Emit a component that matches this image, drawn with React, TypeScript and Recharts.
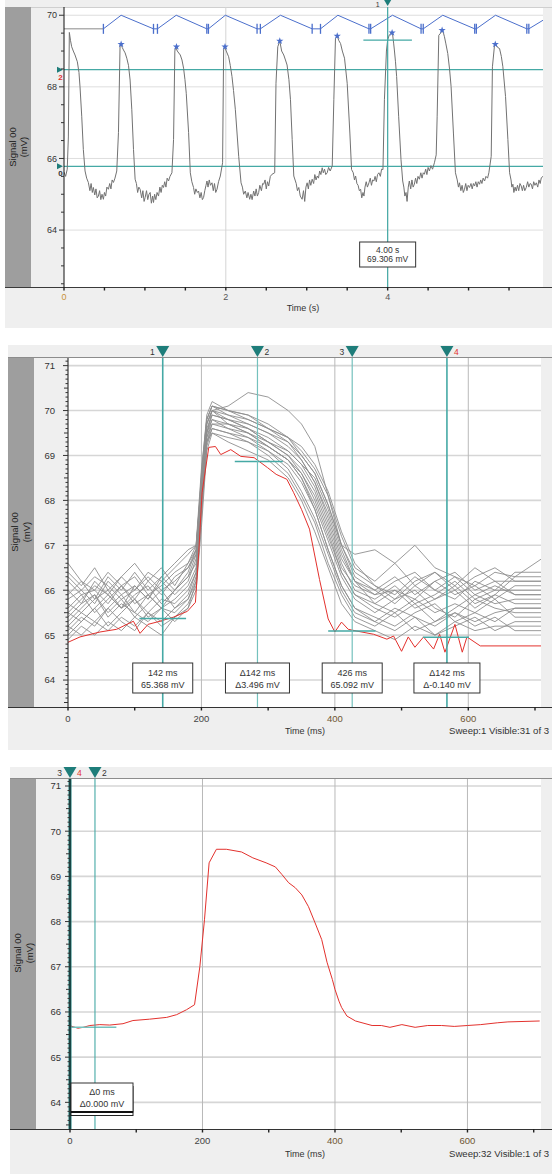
import React from 'react'
import { ComposedChart, Line, XAxis, YAxis, CartesianGrid, ReferenceLine } from 'recharts'

const FONT = '"Liberation Sans", Arial, Helvetica, sans-serif'
const TEAL_DARK = '#1e7d7a'
const TEAL = '#45a9a5'
const TEAL_LIGHT = '#74c1bd'
const RED = '#e3312d'
const BLUE = '#4b6fcc'

// ---------- panel 1: continuous recording (s / mV)
const P1_X_TICKS = [0, 0.5, 1, 1.5, 2, 2.5, 3, 3.5, 4, 4.5, 5, 5.5]
const P1_X_LABELS = [0, 2, 4]
const P1_Y_TICKS = [62.5, 63, 63.5, 64, 64.5, 65, 65.5, 66, 66.5, 67, 67.5, 68, 68.5, 69, 69.5, 70]
const P1_Y_LABELS = [64, 66, 68, 70]
const P1_HCURSORS = [68.48, 65.78]
const P1_CURSOR_T = 4.0
const P1_CURSOR_V = 69.306
const P1_READOUT = ['4.00 s', '69.306 mV']

const P1_SIGNAL: [number, number][] = [
  [0, 65.62], [0.02, 65.5], [0.04, 65.7], [0.054, 66.6], [0.066, 69.52], [0.08, 69.3], [0.095, 69.12], [0.115, 69.0],
  [0.136, 68.89], [0.165, 68.7], [0.185, 68.4], [0.198, 68.0], [0.219, 67.18], [0.239, 66.25], [0.26, 65.65], [0.28, 65.45],
  [0.301, 65.33], [0.32, 65.1], [0.335, 65.3], [0.35, 65.05], [0.363, 65.19], [0.38, 64.98], [0.395, 65.15], [0.41, 64.9],
  [0.425, 64.95], [0.44, 65.1], [0.455, 64.85], [0.47, 65.0], [0.487, 64.86], [0.5, 65.05], [0.515, 64.95], [0.53, 65.2],
  [0.549, 65.14], [0.565, 65.3], [0.58, 65.15], [0.595, 65.4], [0.611, 65.33], [0.63, 65.45], [0.652, 65.65], [0.673, 66.72],
  [0.693, 69.17], [0.706, 69.19],
  [0.72, 69.1], [0.735, 69.03], [0.755, 68.95], [0.776, 68.8], [0.797, 68.6], [0.817, 68.19], [0.838, 67.36], [0.859, 66.25],
  [0.879, 65.42], [0.895, 65.3], [0.91, 65.05], [0.925, 65.2], [0.941, 65.14], [0.96, 64.9], [0.975, 65.1], [0.99, 64.8],
  [1.003, 64.91], [1.02, 65.1], [1.035, 64.85], [1.05, 65.0], [1.065, 65.05], [1.08, 64.75], [1.095, 64.95], [1.106, 64.77],
  [1.12, 65.0], [1.135, 64.85], [1.15, 65.05], [1.168, 64.95], [1.185, 65.2], [1.2, 65.05], [1.215, 65.25], [1.23, 65.19],
  [1.245, 65.35], [1.26, 65.2], [1.275, 65.45], [1.292, 65.37], [1.31, 65.5], [1.334, 65.6], [1.354, 66.53], [1.37, 69.0],
  [1.38, 69.12],
  [1.4, 69.0], [1.437, 68.89], [1.458, 68.75], [1.478, 68.52], [1.495, 68.2], [1.511, 67.82], [1.54, 66.72], [1.561, 65.6],
  [1.58, 65.35], [1.601, 65.19], [1.615, 65.0], [1.63, 65.15], [1.648, 65.05], [1.663, 65.09], [1.68, 64.9], [1.695, 65.05],
  [1.71, 64.85], [1.725, 64.91], [1.74, 65.1], [1.755, 65.25], [1.767, 65.37], [1.78, 65.2], [1.795, 65.4], [1.81, 65.25],
  [1.829, 65.32], [1.845, 65.1], [1.86, 65.3], [1.875, 65.05], [1.891, 65.14], [1.91, 65.35], [1.932, 65.51], [1.96, 65.88],
  [1.973, 69.03], [1.985, 69.12],
  [2.005, 69.0], [2.035, 68.84], [2.055, 68.6], [2.076, 68.29], [2.095, 67.9], [2.118, 67.36], [2.159, 66.06], [2.188, 65.32],
  [2.205, 65.2], [2.22, 65.0], [2.241, 65.09], [2.26, 64.9], [2.275, 65.05], [2.295, 64.86], [2.31, 65.0], [2.325, 64.85],
  [2.344, 65.09], [2.36, 64.95], [2.375, 65.15], [2.39, 64.95], [2.406, 65.05], [2.42, 65.25], [2.44, 65.1], [2.455, 65.3],
  [2.468, 65.28], [2.485, 65.4], [2.5, 65.15], [2.515, 65.35], [2.53, 65.23], [2.55, 65.5], [2.572, 65.56], [2.604, 65.6],
  [2.62, 68.1], [2.642, 69.12], [2.667, 69.28],
  [2.69, 69.0], [2.716, 68.89], [2.737, 68.75], [2.757, 68.61], [2.78, 68.2], [2.799, 67.64], [2.82, 66.53], [2.84, 65.51],
  [2.87, 65.3], [2.885, 65.1], [2.902, 65.19], [2.92, 64.95], [2.943, 64.86], [2.96, 65.1], [2.975, 64.8], [2.99, 65.2],
  [3.005, 65.32], [3.02, 65.15], [3.035, 65.4], [3.05, 65.25], [3.067, 65.42], [3.085, 65.3], [3.1, 65.55], [3.115, 65.4],
  [3.13, 65.51], [3.145, 65.45], [3.16, 65.65], [3.175, 65.55], [3.191, 65.74], [3.205, 65.6], [3.22, 65.7], [3.235, 65.55],
  [3.253, 65.6], [3.27, 65.75], [3.29, 65.65], [3.315, 65.79], [3.335, 67.64], [3.355, 69.35], [3.377, 69.42],
  [3.395, 69.3], [3.418, 69.21], [3.44, 69.0], [3.467, 68.8], [3.5, 68.1], [3.533, 66.71], [3.554, 65.69], [3.575, 65.6],
  [3.59, 65.4], [3.604, 65.51], [3.62, 65.3], [3.635, 65.25], [3.65, 65.1], [3.666, 65.14], [3.68, 64.9], [3.695, 65.05],
  [3.707, 64.95], [3.72, 65.2], [3.735, 65.35], [3.75, 65.2], [3.769, 65.32], [3.785, 65.45], [3.8, 65.25], [3.815, 65.4],
  [3.83, 65.37], [3.845, 65.5], [3.86, 65.35], [3.875, 65.55], [3.892, 65.6], [3.91, 65.5], [3.925, 65.7], [3.942, 65.69],
  [3.96, 67.64], [3.985, 69.0], [4.0, 69.31], [4.02, 69.45], [4.045, 69.5], [4.06, 69.49],
  [4.075, 69.2], [4.083, 69.03], [4.097, 68.7], [4.111, 68.29], [4.136, 67.18], [4.165, 65.97], [4.186, 65.37], [4.2, 65.2],
  [4.213, 64.95], [4.227, 65.05], [4.24, 64.8], [4.255, 65.2], [4.268, 65.37], [4.285, 65.15], [4.3, 65.4], [4.315, 65.2],
  [4.33, 65.28], [4.345, 65.45], [4.36, 65.3], [4.375, 65.5], [4.392, 65.42], [4.41, 65.6], [4.425, 65.45], [4.44, 65.6],
  [4.454, 65.56], [4.47, 65.7], [4.485, 65.55], [4.5, 65.75], [4.516, 65.65], [4.535, 65.8], [4.555, 65.7], [4.578, 65.88],
  [4.6, 66.1], [4.612, 67.18], [4.632, 69.44], [4.655, 69.5], [4.673, 69.58],
  [4.69, 69.5], [4.702, 69.4], [4.72, 69.2], [4.743, 68.93], [4.765, 68.5], [4.784, 68.01], [4.813, 66.71], [4.838, 65.6],
  [4.86, 65.4], [4.875, 65.2], [4.888, 65.32], [4.905, 65.1], [4.92, 65.25], [4.935, 65.05], [4.95, 65.14], [4.965, 65.3],
  [4.98, 65.1], [4.995, 65.25], [5.012, 65.19], [5.03, 65.3], [5.045, 65.15], [5.06, 65.3], [5.074, 65.23], [5.09, 65.35],
  [5.105, 65.2], [5.12, 65.35], [5.136, 65.28], [5.15, 65.4], [5.165, 65.3], [5.18, 65.45], [5.198, 65.37], [5.215, 65.5],
  [5.235, 65.45], [5.251, 65.6], [5.28, 66.06], [5.295, 68.56], [5.321, 69.17], [5.335, 69.19],
  [5.36, 69.1], [5.383, 69.07], [5.405, 68.85], [5.424, 68.56], [5.457, 67.73], [5.486, 66.53], [5.507, 65.6], [5.525, 65.4],
  [5.535, 65.2], [5.548, 65.28], [5.56, 65.05], [5.575, 65.2], [5.589, 65.09], [5.605, 65.25], [5.62, 65.1], [5.635, 65.3],
  [5.651, 65.23], [5.665, 65.1], [5.68, 65.25], [5.695, 65.1], [5.713, 65.19], [5.73, 65.35], [5.745, 65.2], [5.76, 65.3],
  [5.775, 65.28], [5.79, 65.15], [5.805, 65.35], [5.82, 65.25], [5.837, 65.32], [5.855, 65.2], [5.87, 65.4], [5.885, 65.3],
  [5.899, 65.46], [5.92, 65.5],
]

// rate channel drawn on top: [time, value, tick mark]
const P1_RATE: [number, number, number][] = [
  [0.487, 69.62, 1], [0.706, 70.0, 0], [1.106, 69.62, 1], [1.155, 69.62, 1], [1.387, 70.0, 0], [1.765, 69.62, 1],
  [1.785, 69.62, 1], [1.994, 70.0, 0], [2.386, 69.62, 1], [2.427, 69.62, 1], [2.675, 70.0, 0], [3.067, 69.62, 1],
  [3.17, 69.62, 1], [3.385, 70.0, 0], [3.769, 69.62, 1], [3.79, 69.62, 1], [4.06, 70.0, 0], [4.413, 69.62, 1],
  [4.44, 69.62, 1], [4.681, 70.0, 0], [5.076, 69.62, 1], [5.096, 69.62, 1], [5.333, 70.0, 0], [5.72, 69.62, 1],
  [5.745, 69.62, 1], [5.92, 69.86, 0],
]
const P1_RATE_LEAD: [number, number][] = [[0, 69.62], [0.487, 69.62]]
const P1_PEAKS: [number, number][] = [
  [0.706, 69.19], [1.39, 69.12], [1.99, 69.12], [2.667, 69.28], [3.377, 69.42], [4.055, 69.51], [4.673, 69.58], [5.33, 69.19],
]

// ---------- panel 2: 31 overlaid sweeps (ms / mV)
const SWEEP_X_TICKS = [0, 100, 200, 300, 400, 500, 600, 700]
const SWEEP_X_LABELS = [0, 200, 400, 600]
const SWEEP_Y_LABELS = [64, 65, 66, 67, 68, 69, 70, 71]

const P2_T = [0, 20, 40, 60, 80, 100, 120, 140, 160, 180, 192, 200, 208, 216, 240, 270, 300, 330, 350, 370, 390, 410, 430, 460, 490, 520, 550, 580, 610, 640, 670, 710]
const GRAY_SWEEPS: number[][] = [
  [65.2, 65.0, 65.3, 65.1, 65.4, 65.2, 65.5, 65.3, 65.6, 65.8, 66.2, 67.8, 69.3, 69.5, 69.4, 69.3, 69.1, 68.7, 68.2, 67.6, 66.8, 66.0, 65.5, 65.3, 65.1, 65.4, 65.0, 65.3, 65.1, 65.2, 65.2, 65.2],
  [65.6, 65.9, 65.5, 65.8, 66.1, 65.7, 65.9, 65.6, 66.0, 66.3, 66.8, 68.2, 69.6, 69.9, 69.8, 69.6, 69.4, 69.1, 68.8, 68.3, 67.5, 66.6, 66.0, 65.8, 66.1, 65.7, 65.9, 66.2, 65.8, 66.0, 66.0, 66.0],
  [66.0, 65.7, 66.2, 65.9, 65.6, 66.1, 65.8, 66.3, 66.0, 66.4, 66.9, 68.5, 69.8, 70.1, 69.9, 69.7, 69.5, 69.3, 69.0, 68.6, 67.9, 67.0, 66.3, 66.0, 65.7, 66.1, 65.8, 66.0, 65.6, 65.9, 66.3, 66.3],
  [65.4, 65.7, 65.9, 65.5, 65.8, 65.4, 65.7, 66.0, 65.6, 65.9, 66.4, 68.0, 69.5, 69.8, 69.6, 69.5, 69.2, 68.9, 68.5, 67.9, 67.1, 66.3, 65.8, 65.5, 65.8, 66.0, 65.6, 65.4, 65.8, 65.6, 65.5, 65.5],
  [66.4, 66.1, 66.5, 66.0, 66.3, 66.6, 66.2, 66.5, 66.1, 66.6, 67.0, 68.4, 69.7, 70.0, 69.9, 69.8, 69.6, 69.4, 69.1, 68.7, 68.1, 67.2, 66.5, 66.2, 66.6, 66.1, 66.4, 66.0, 66.3, 66.5, 66.2, 66.2],
  [65.1, 65.4, 65.2, 65.6, 65.3, 65.1, 65.5, 65.2, 65.4, 65.7, 66.1, 67.6, 69.2, 69.6, 69.5, 69.3, 69.0, 68.6, 68.1, 67.5, 66.6, 65.9, 65.4, 65.2, 65.5, 65.1, 65.3, 65.5, 65.2, 65.4, 65.1, 65.1],
  [65.8, 66.0, 65.7, 66.2, 65.9, 66.1, 65.8, 66.2, 65.9, 66.2, 66.7, 68.3, 69.7, 70.0, 69.7, 69.6, 69.3, 69.0, 68.7, 68.2, 67.4, 66.5, 66.1, 65.9, 66.2, 66.4, 66.0, 66.3, 65.9, 66.1, 65.9, 65.9],
  [65.5, 65.8, 66.1, 65.9, 66.3, 66.0, 66.4, 66.2, 66.5, 66.8, 67.0, 68.1, 69.5, 70.0, 70.1, 70.4, 70.3, 70.0, 69.7, 69.2, 68.1, 67.0, 66.8, 66.9, 66.6, 67.0, 66.5, 66.3, 66.1, 66.4, 66.3, 66.7],
  [65.3, 65.6, 65.9, 65.4, 65.7, 65.5, 65.9, 65.6, 65.8, 66.1, 66.5, 67.9, 69.4, 69.7, 69.7, 69.5, 69.2, 68.9, 68.6, 68.0, 67.2, 66.4, 65.9, 65.6, 65.4, 65.7, 65.3, 65.6, 65.9, 65.7, 65.8, 65.8],
  [66.2, 65.9, 66.0, 66.4, 66.1, 65.8, 66.2, 65.9, 66.3, 66.5, 66.9, 68.6, 69.9, 70.2, 70.0, 69.8, 69.6, 69.3, 68.9, 68.4, 67.6, 66.7, 66.2, 65.9, 66.0, 65.8, 66.2, 65.9, 66.1, 65.8, 66.1, 66.1],
  [64.9, 65.2, 65.0, 65.3, 65.1, 65.4, 65.2, 65.0, 65.4, 65.6, 66.0, 67.4, 69.1, 69.5, 69.3, 69.1, 68.9, 68.5, 68.0, 67.3, 66.5, 65.7, 65.3, 65.1, 64.9, 65.2, 65.0, 65.2, 65.4, 65.1, 65.3, 65.3],
  [65.7, 65.5, 65.8, 66.0, 65.6, 65.9, 66.1, 65.7, 66.0, 66.3, 66.6, 68.0, 69.5, 69.9, 69.8, 69.6, 69.3, 69.1, 68.8, 68.5, 67.8, 66.9, 66.2, 65.7, 66.0, 65.6, 65.8, 66.1, 65.7, 65.9, 65.7, 65.7],
  [66.6, 66.2, 65.8, 66.3, 66.0, 66.4, 66.0, 66.3, 66.6, 66.9, 67.0, 68.7, 69.8, 70.1, 70.0, 69.9, 69.7, 69.4, 69.2, 68.8, 68.2, 67.3, 66.6, 66.1, 65.9, 66.3, 66.0, 65.8, 66.2, 66.0, 66.4, 66.4],
  [65.0, 65.3, 65.6, 65.2, 65.5, 65.8, 65.4, 65.6, 65.3, 65.6, 66.2, 67.7, 69.3, 69.6, 69.5, 69.4, 69.1, 68.8, 68.4, 67.8, 66.9, 66.1, 65.6, 65.4, 65.2, 65.5, 65.7, 65.3, 65.5, 65.3, 65.6, 65.6],
  [65.9, 66.2, 66.0, 65.7, 66.1, 66.3, 65.9, 66.1, 66.4, 66.6, 66.9, 68.4, 69.7, 70.0, 69.8, 69.7, 69.5, 69.2, 68.9, 68.4, 67.7, 66.8, 66.2, 66.0, 66.3, 65.9, 66.2, 66.4, 66.0, 66.2, 66.2, 66.2],
  [65.5, 65.3, 65.6, 65.9, 65.6, 65.8, 65.5, 65.8, 65.7, 66.0, 66.4, 67.9, 69.4, 69.8, 69.7, 69.5, 69.3, 69.0, 68.6, 68.1, 67.3, 66.4, 65.9, 65.7, 65.5, 65.8, 65.5, 65.7, 65.5, 65.8, 65.4, 65.4],
  [66.3, 66.0, 66.3, 66.1, 65.8, 66.0, 66.3, 66.0, 66.2, 66.5, 66.8, 68.5, 69.8, 70.1, 70.0, 69.9, 69.6, 69.4, 69.0, 68.6, 67.9, 67.0, 66.4, 66.1, 65.8, 66.2, 66.4, 66.1, 66.5, 66.2, 65.9, 65.9],
  [65.2, 65.5, 65.3, 65.6, 65.9, 65.5, 65.3, 65.6, 65.5, 65.8, 66.3, 67.8, 69.3, 69.7, 69.6, 69.4, 69.2, 68.9, 68.5, 67.8, 66.9, 66.1, 65.6, 65.3, 65.6, 65.4, 65.2, 65.5, 65.3, 65.5, 65.6, 65.6],
]
const RED_SWEEP_T = [0, 18, 48, 73, 98, 108, 120, 138, 158, 179, 191, 196, 201, 211, 221, 229, 244, 259, 279, 299, 312, 328, 338, 350, 362, 377, 390, 400, 410, 420, 433, 458, 478, 488, 500, 510, 520, 533, 548, 557, 565, 580, 591, 598, 618, 709]
const RED_SWEEP_V = [64.84, 64.96, 65.07, 65.13, 65.31, 65.04, 65.24, 65.31, 65.4, 65.53, 65.73, 66.84, 68.18, 69.18, 69.2, 69.02, 69.13, 68.98, 68.95, 68.73, 68.58, 68.47, 68.18, 67.8, 67.36, 66.24, 65.36, 65.07, 65.29, 65.13, 65.09, 65.02, 64.91, 64.98, 64.64, 64.96, 64.73, 64.96, 64.69, 65.02, 64.62, 65.24, 64.62, 64.96, 64.76, 64.76]

const P2_CURSOR_T = [142, 284, 426, 568]
const P2_CURSOR_V = [65.368, 68.864, 65.092, 64.952]
const P2_CURSOR_SPAN: [number, number][] = [[107, 177], [250, 322], [390, 461], [532, 601]]
const P2_READOUTS = [['142 ms', '65.368 mV'], ['\u0394142 ms', '\u03943.496 mV'], ['426 ms', '65.092 mV'], ['\u0394142 ms', '\u0394-0.140 mV']]

// ---------- panel 3: averaged sweep (ms / mV)
const P3_T = [0, 3, 12, 20, 30, 45, 60, 80, 95, 120, 146, 161, 176, 188, 196, 203, 210, 221, 236, 259, 276, 296, 310, 320, 330, 340, 350, 360, 370, 380, 388, 396, 400, 406, 410, 418, 431, 456, 470, 483, 501, 521, 540, 561, 580, 600, 620, 645, 661, 709]
const P3_V = [65.7, 65.68, 65.64, 65.66, 65.7, 65.72, 65.71, 65.74, 65.81, 65.84, 65.88, 65.94, 66.05, 66.16, 67.0, 68.04, 69.3, 69.6, 69.6, 69.54, 69.41, 69.3, 69.21, 69.04, 68.86, 68.75, 68.59, 68.33, 67.97, 67.6, 67.1, 66.72, 66.5, 66.24, 66.1, 65.91, 65.8, 65.7, 65.7, 65.66, 65.72, 65.66, 65.7, 65.7, 65.68, 65.7, 65.72, 65.76, 65.78, 65.8]
const P3_CURSOR_T = [0, 37.7]
const P3_CURSOR_V = 65.66
const P3_READOUT = ['\u03940 ms', '\u03940.000 mV']

type Pt = { t: number; v: number; mark?: number }
const pairs = (list: [number, number][]): Pt[] => list.map(([t, v]) => ({ t, v }))
const zipTV = (ts: number[], vs: number[]): Pt[] => ts.map((t, i) => ({ t, v: vs[i] }))

const stepTicks = (from: number, to: number, step: number) => {
  const out: number[] = []
  const n = Math.round((to - from) / step)
  for (let i = 0; i <= n; i++) out.push(Math.round((from + i * step) * 100) / 100)
  return out
}
const SWEEP_Y_TICKS = stepTicks(63.5, 71.1, 0.1)

const near = (a: number, b: number) => Math.abs(a - b) < 1e-6

const yTick = (labels: number[], gap: number, fontSize: number, lenOf: (v: number) => number) => (props: any) => {
  const { x, y, payload } = props
  const v: number = payload.value
  const isLabel = labels.some((l) => near(l, v))
  return (
    <g>
      <line x1={x} x2={x - (isLabel ? 5 : lenOf(v))} y1={y} y2={y} stroke="#333" strokeWidth={1} />
      {isLabel && (
        <text x={x - gap} y={y} dy="0.36em" textAnchor="end" fontSize={fontSize} fill="#333" fontFamily={FONT}>
          {v}
        </text>
      )}
    </g>
  )
}

const xTick = (labels: number[], dy: number, fontSize: number, colorOf: (v: number) => string) => (props: any) => {
  const { x, y, payload } = props
  const v: number = payload.value
  const isLabel = labels.some((l) => near(l, v))
  return (
    <g>
      <line x1={x} x2={x} y1={y} y2={y + 3.5} stroke="#222" strokeWidth={1.4} />
      {isLabel && (
        <text x={x} y={y + dy} textAnchor="middle" fontSize={fontSize} fill={colorOf(v)} fontFamily={FONT}>
          {v}
        </text>
      )}
    </g>
  )
}

type FlagProps = {
  viewBox?: { x: number; y: number; width: number; height: number }
  leftTag?: string
  rightTag?: string
  rightTagColor?: string
  tagSize?: number
  tagLift?: number
  lines?: string[]
  boxW?: number
  boxH?: number
  boxGap?: number
  boxStart?: boolean
  lineDy?: number[]
  fontSize?: number
  stacked?: boolean
}

// triangle flag in the strip above the plot, plus the readout box near the bottom
const CursorFlag = (p: FlagProps) => {
  if (!p.viewBox) return null
  const { x, y, width, height } = p.viewBox
  const cx = x + (width || 0) / 2
  const top = y
  const bottom = y + height
  const fs = p.fontSize || 9
  const w = p.boxW || 60
  const h = p.boxH || 30
  const bx = p.boxStart ? cx + 1 : cx - w / 2
  const by = bottom - (p.boxGap || 14) - h
  const dys = p.lineDy || [13, 25]
  const ty = top - (p.tagLift == null ? 3 : p.tagLift)
  const ts = p.tagSize || 8.5
  return (
    <g fontFamily={FONT}>
      <path d={`M${cx - 6.5},${top - 12} L${cx + 6.5},${top - 12} L${cx},${top - 1} Z`} fill={TEAL_DARK} />
      {p.leftTag && (
        <text x={cx - 8} y={ty} textAnchor="end" fontSize={ts} fill="#333">{p.leftTag}</text>
      )}
      {p.rightTag && (
        <text x={cx + 7} y={ty} textAnchor="start" fontSize={ts} fill={p.rightTagColor || '#333'}>{p.rightTag}</text>
      )}
      {p.lines && p.stacked && (
        <rect x={bx} y={by + 3.5} width={w} height={h} fill="#fff" stroke="#222" strokeWidth={1} />
      )}
      {p.lines && (
        <rect x={bx} y={by} width={w} height={h} fill="#fff" stroke="#333" strokeWidth={1} />
      )}
      {p.lines && p.stacked && (
        <line x1={bx} x2={bx + w} y1={by + h} y2={by + h} stroke="#111" strokeWidth={2} />
      )}
      {p.lines &&
        p.lines.map((s, i) => (
          <text key={i} x={bx + w / 2} y={by + dys[i]} textAnchor="middle" fontSize={fs} fill="#333">{s}</text>
        ))}
    </g>
  )
}

const HMarker = (p: { viewBox?: any; tag?: string; tagColor?: string }) => {
  if (!p.viewBox) return null
  const { x, y } = p.viewBox
  return (
    <g fontFamily={FONT}>
      <path d={`M${x - 7},${y - 3} L${x - 1},${y} L${x - 7},${y + 3} Z`} fill={TEAL_DARK} />
      <text x={x - 3.5} y={y + 10} textAnchor="middle" fontSize={8} fontWeight="bold" fill={p.tagColor || '#333'}>{p.tag}</text>
    </g>
  )
}

const StarDot = (props: any) => {
  const { cx, cy } = props
  if (cx == null || cy == null) return null
  const pts: string[] = []
  for (let i = 0; i < 10; i++) {
    const r = i % 2 ? 1.5 : 3.8
    const a = -Math.PI / 2 + (i * Math.PI) / 5
    pts.push(`${cx + r * Math.cos(a)},${cy + r * Math.sin(a)}`)
  }
  return <polygon points={pts.join(' ')} fill={BLUE} />
}

const RateTick = (props: any) => {
  const { cx, cy, payload } = props
  if (cx == null || !payload || !payload.mark) return null
  return <line x1={cx} x2={cx} y1={cy - 5} y2={cy + 5} stroke={BLUE} strokeWidth={1.3} />
}

function Panel1() {
  const signal = pairs(P1_SIGNAL)
  const rate: Pt[] = P1_RATE.map(([t, v, mark]) => ({ t, v, mark }))
  return (
    <ComposedChart width={552} height={330} margin={{ top: 7, right: 9, bottom: 13, left: 34 }}>
      <CartesianGrid horizontal vertical={false} horizontalValues={P1_Y_LABELS} stroke="#dedede" />
      <CartesianGrid horizontal={false} vertical verticalValues={[2, 4]} stroke="#d4d4d4" />
      <XAxis type="number" dataKey="t" domain={[0, 5.92]} ticks={P1_X_TICKS} interval={0} tickSize={0} tickMargin={0}
        tick={xTick(P1_X_LABELS, 12.5, 9, (v) => (v === 0 ? '#c8923a' : '#555'))} axisLine={false} height={30} allowDataOverflow />
      <YAxis type="number" domain={[62.41, 70.23]} ticks={P1_Y_TICKS} interval={0} tickSize={0} tickMargin={0}
        tick={yTick(P1_Y_LABELS, 7, 9, () => 3)} axisLine={{ stroke: '#111' }} width={30} allowDataOverflow />
      <ReferenceLine y={P1_HCURSORS[0]} stroke={TEAL} strokeWidth={1.2} label={<HMarker tag="2" tagColor={RED} />} />
      <ReferenceLine y={P1_HCURSORS[1]} stroke={TEAL} strokeWidth={1.2} label={<HMarker tag="0" tagColor="#333" />} />
      <Line data={pairs(P1_RATE_LEAD)} dataKey="v" stroke="#8a8a8a" strokeWidth={1} dot={false} isAnimationActive={false} />
      <Line data={rate} dataKey="v" stroke={BLUE} strokeWidth={1} dot={<RateTick />} isAnimationActive={false} />
      <Line data={signal} dataKey="v" stroke="#727272" strokeWidth={1} dot={false} isAnimationActive={false} />
      <Line data={pairs(P1_PEAKS)} dataKey="v" stroke="none" dot={<StarDot />} isAnimationActive={false} />
      <ReferenceLine x={P1_CURSOR_T} stroke={TEAL} strokeWidth={1.2}
        label={<CursorFlag leftTag="1" tagSize={7} tagLift={0} lines={P1_READOUT} boxW={56} boxH={25} boxGap={20} lineDy={[10.5, 19.5]} fontSize={8.5} />} />
      <ReferenceLine segment={[{ x: P1_CURSOR_T - 0.3, y: P1_CURSOR_V }, { x: P1_CURSOR_T + 0.3, y: P1_CURSOR_V }]} stroke={TEAL} strokeWidth={1.2} />
    </ComposedChart>
  )
}

const CURSOR_STYLE = [
  { stroke: TEAL, w: 1.6 },
  { stroke: TEAL_LIGHT, w: 1.2 },
  { stroke: TEAL_LIGHT, w: 1.2 },
  { stroke: TEAL, w: 1.6 },
]
const P2_BOX_W = [60, 64, 60, 66]

function Panel2() {
  return (
    <ComposedChart width={552} height={415} margin={{ top: 18, right: 11, bottom: 18, left: 38 }}>
      <CartesianGrid horizontal vertical={false} horizontalValues={SWEEP_Y_LABELS} stroke="#d6d6d6" strokeWidth={1.6} />
      <CartesianGrid horizontal={false} vertical verticalValues={[200, 400, 600]} stroke="#b9b9b9" />
      <XAxis type="number" dataKey="t" domain={[0, 709]} ticks={SWEEP_X_TICKS} interval={0} tickSize={0} tickMargin={0}
        tick={xTick(SWEEP_X_LABELS, 15, 9.5, (v) => (v >= 400 ? '#6e5632' : '#444'))} axisLine={false} height={30} allowDataOverflow />
      <YAxis type="number" domain={[63.4, 71.17]} ticks={SWEEP_Y_TICKS} interval={0} tickSize={0} tickMargin={0}
        tick={yTick(SWEEP_Y_LABELS, 13, 9.5, (v) => (near(v * 2, Math.round(v * 2)) ? 4 : 2.5))} axisLine={{ stroke: '#111' }} width={30} allowDataOverflow />
      {GRAY_SWEEPS.map((vs, i) => (
        <Line key={i} data={zipTV(P2_T, vs)} dataKey="v" stroke="#8e8e8e" strokeWidth={0.9} dot={false} isAnimationActive={false} />
      ))}
      <Line data={zipTV(RED_SWEEP_T, RED_SWEEP_V)} dataKey="v" stroke={RED} strokeWidth={1} dot={false} isAnimationActive={false} />
      {P2_CURSOR_T.map((t, i) => (
        <ReferenceLine key={`s${i}`} segment={[{ x: P2_CURSOR_SPAN[i][0], y: P2_CURSOR_V[i] }, { x: P2_CURSOR_SPAN[i][1], y: P2_CURSOR_V[i] }]}
          stroke={TEAL} strokeWidth={1.5} />
      ))}
      {P2_CURSOR_T.map((t, i) => (
        <ReferenceLine key={`c${i}`} x={t} stroke={CURSOR_STYLE[i].stroke} strokeWidth={CURSOR_STYLE[i].w}
          label={
            <CursorFlag
              leftTag={i === 0 || i === 2 ? String(i + 1) : undefined}
              rightTag={i === 1 || i === 3 ? String(i + 1) : undefined}
              rightTagColor={i === 3 ? RED : '#333'}
              lines={P2_READOUTS[i]}
              boxW={P2_BOX_W[i]}
              boxH={30}
              boxGap={14}
              lineDy={[13, 25]}
            />
          } />
      ))}
    </ComposedChart>
  )
}

function Panel3() {
  return (
    <ComposedChart width={552} height={414} margin={{ top: 19, right: 11, bottom: 15, left: 40 }}>
      <CartesianGrid horizontal vertical={false} horizontalValues={SWEEP_Y_LABELS} stroke="#d6d6d6" strokeWidth={1.6} />
      <CartesianGrid horizontal={false} vertical verticalValues={[200, 400, 600]} stroke="#b9b9b9" />
      <XAxis type="number" dataKey="t" domain={[0, 711]} ticks={SWEEP_X_TICKS} interval={0} tickSize={0} tickMargin={0}
        tick={xTick(SWEEP_X_LABELS, 15, 9.5, (v) => (v >= 400 ? '#6e5632' : '#444'))} axisLine={false} height={30} allowDataOverflow />
      <YAxis type="number" domain={[63.41, 71.155]} ticks={SWEEP_Y_TICKS} interval={0} tickSize={0} tickMargin={0}
        tick={yTick(SWEEP_Y_LABELS, 9, 9.5, (v) => (near(v * 2, Math.round(v * 2)) ? 4 : 2.5))} axisLine={{ stroke: '#111' }} width={30} allowDataOverflow />
      <Line data={zipTV(P3_T, P3_V)} dataKey="v" stroke={RED} strokeWidth={1} dot={false} isAnimationActive={false} />
      <ReferenceLine segment={[{ x: 2, y: P3_CURSOR_V }, { x: 70, y: P3_CURSOR_V }]} stroke={TEAL_LIGHT} strokeWidth={1.5} />
      <ReferenceLine x={P3_CURSOR_T[1]} stroke={TEAL} strokeWidth={1.1} label={<CursorFlag rightTag="2" />} />
      <ReferenceLine x={P3_CURSOR_T[0]} stroke={TEAL_DARK} strokeWidth={3}
        label={<CursorFlag leftTag="3" rightTag="4" rightTagColor={RED} lines={P3_READOUT} boxW={62} boxH={29} boxGap={17} boxStart lineDy={[12, 23.5]} stacked />} />
    </ComposedChart>
  )
}

const AxisTitle = ({ x1, x2, cy }: { x1: number; x2: number; cy: number }) => (
  <g fontFamily={FONT} fontSize={9.5} fill="#222" textAnchor="middle">
    <text x={x1} y={cy} transform={`rotate(-90 ${x1} ${cy})`}>Signal 00</text>
    <text x={x2} y={cy} transform={`rotate(-90 ${x2} ${cy})`}>(mV)</text>
  </g>
)

function Chrome() {
  return (
    <svg width={552} height={1174} style={{ position: 'absolute', left: 0, top: 0 }}>
      {/* panel 1 frame */}
      <rect x={5} y={0} width={547} height={328} fill="#efefef" />
      <rect x={5} y={7} width={26} height={280} fill="#9e9e9e" />
      <rect x={64} y={7} width={479} height={280} fill="#fff" />
      <line x1={31} x2={552} y1={7.5} y2={7.5} stroke="#cfcfcf" />
      <line x1={5} x2={552} y1={287.5} y2={287.5} stroke="#3a3a3a" />
      <g transform="translate(15.5,0)"><AxisTitle x1={0} x2={11} cy={147} /></g>
      <text x={303} y={311} textAnchor="middle" fontSize={9} fill="#333" fontFamily={FONT}>Time (s)</text>

      {/* panel 2 frame */}
      <rect x={8} y={345} width={544} height={405} fill="#efefef" />
      <line x1={8} x2={552} y1={357.5} y2={357.5} stroke="#8c8c8c" />
      <rect x={8} y={358} width={26} height={349} fill="#9e9e9e" />
      <rect x={68} y={358} width={473} height={349} fill="#fff" />
      <line x1={8} x2={552} y1={707.5} y2={707.5} stroke="#333" />
      <g transform="translate(17.5,0)"><AxisTitle x1={0} x2={12.5} cy={532} /></g>
      <text x={305} y={734} textAnchor="middle" fontSize={9} fill="#333" fontFamily={FONT}>Time (ms)</text>
      <text x={449} y={734} fontSize={9.6} fill="#333" fontFamily={FONT}>Sweep:1 Visible:31 of 3</text>

      {/* panel 3 frame */}
      <rect x={10} y={767} width={542} height={407} fill="#efefef" />
      <line x1={10} x2={552} y1={778.5} y2={778.5} stroke="#8c8c8c" />
      <rect x={10} y={779} width={26} height={350} fill="#9e9e9e" />
      <rect x={70} y={779} width={471} height={350} fill="#fff" />
      <line x1={10} x2={552} y1={1129.5} y2={1129.5} stroke="#333" />
      <g transform="translate(20.5,0)"><AxisTitle x1={0} x2={12.5} cy={953} /></g>
      <text x={305} y={1157} textAnchor="middle" fontSize={9} fill="#333" fontFamily={FONT}>Time (ms)</text>
      <text x={449} y={1157} fontSize={9.6} fill="#333" fontFamily={FONT}>Sweep:32 Visible:1 of 3</text>
    </svg>
  )
}

export default function App() {
  return (
    <div style={{ position: 'absolute', left: 0, top: 0, width: 552, height: 1174, overflow: 'hidden', background: '#fff', fontFamily: FONT }}>
      <Chrome />
      <div style={{ position: 'absolute', left: 0, top: 0 }}><Panel1 /></div>
      <div style={{ position: 'absolute', left: 0, top: 340 }}><Panel2 /></div>
      <div style={{ position: 'absolute', left: 0, top: 760 }}><Panel3 /></div>
    </div>
  )
}
